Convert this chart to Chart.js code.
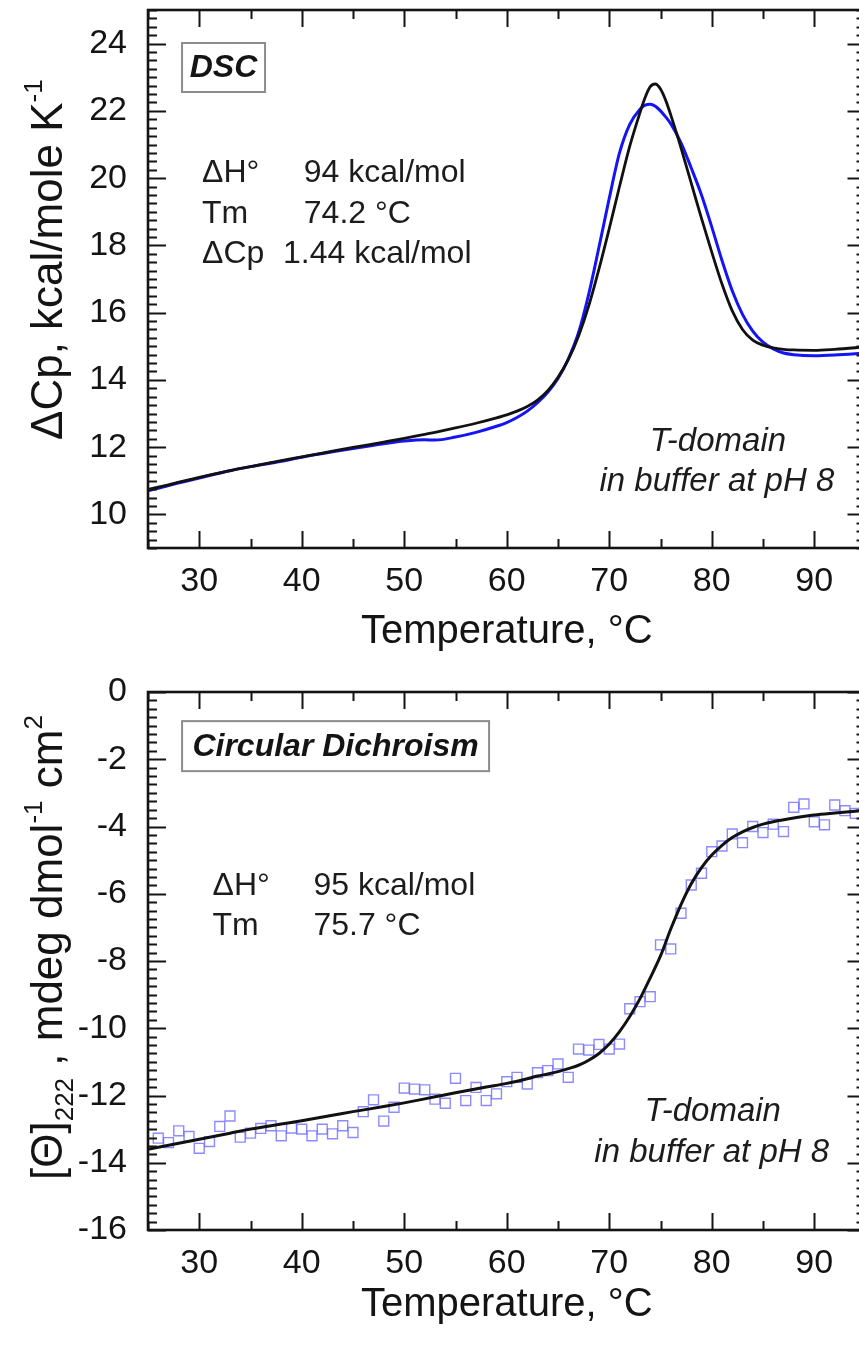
<!DOCTYPE html>
<html>
<head>
<meta charset="utf-8">
<script src="https://cdn.jsdelivr.net/npm/chart.js@4.4.1/dist/chart.umd.min.js"></script>
<style>
html, body { margin:0; padding:0; background:#ffffff; width:859px; height:1351px; overflow:hidden; position:relative; }
#c1 { position:absolute; left:0; top:0; }
#c2 { position:absolute; left:0; top:660px; }
</style>
</head>
<body>
<canvas id="c1" width="880" height="700"></canvas>
<canvas id="c2" width="880" height="691"></canvas>
<script>
const FONT = "'Liberation Sans', Arial, Helvetica, sans-serif";

// ---------- shared x axis ----------
const xTickValues = [30, 40, 50, 60, 70, 80, 90];

// ---------- DSC panel ----------
const dscTemp = [25, 27, 30, 33, 35, 38, 40, 43, 45, 48, 50, 52, 53, 55, 57, 59, 60, 61, 62, 63, 64, 65, 66, 67, 68, 69, 70, 71, 72, 73, 73.5, 74, 74.5, 75, 75.5, 76, 77, 78, 79, 80, 81, 82, 83, 84, 85, 86, 87, 88, 90, 92, 95];
const dscFit = [10.74, 10.88, 11.1, 11.3, 11.42, 11.6, 11.71, 11.88, 11.99, 12.15, 12.26, 12.38, 12.44, 12.57, 12.71, 12.87, 12.96, 13.07, 13.21, 13.4, 13.68, 14.08, 14.6, 15.3, 16.2, 17.3, 18.5, 19.75, 20.95, 21.95, 22.4, 22.72, 22.8, 22.65, 22.32, 21.88, 20.9, 19.85, 18.8, 17.8, 16.85, 16.05, 15.5, 15.18, 15.03, 14.95, 14.91, 14.89, 14.88, 14.91, 14.98];
const dscExp = [10.7, 10.86, 11.08, 11.3, 11.42, 11.58, 11.7, 11.86, 11.96, 12.1, 12.18, 12.22, 12.21, 12.3, 12.44, 12.62, 12.73, 12.88, 13.07, 13.32, 13.63, 14.04, 14.62, 15.4, 16.55, 17.95, 19.4, 20.75, 21.6, 22.05, 22.17, 22.2, 22.14, 22.0, 21.82, 21.62, 21.05, 20.3, 19.5, 18.55, 17.55, 16.65, 15.95, 15.45, 15.12, 14.92, 14.8, 14.75, 14.72, 14.74, 14.8];
const dscYTicks = [10, 12, 14, 16, 18, 20, 22, 24];

// ---------- CD panel ----------
const cdTemp = [26, 27, 28, 29, 30, 31, 32, 33, 34, 35, 36, 37, 38, 39, 40, 41, 42, 43, 44, 45, 46, 47, 48, 49, 50, 51, 52, 53, 54, 55, 56, 57, 58, 59, 60, 61, 62, 63, 64, 65, 66, 67, 68, 69, 70, 71, 72, 73, 74, 75, 76, 77, 78, 79, 80, 81, 82, 83, 84, 85, 86, 87, 88, 89, 90, 91, 92, 93, 94];
const cdSignal = [-13.27, -13.40, -13.05, -13.22, -13.57, -13.37, -12.92, -12.61, -13.24, -13.12, -12.98, -12.90, -13.20, -12.97, -13.00, -13.20, -13.00, -13.14, -12.90, -13.10, -12.48, -12.13, -12.76, -12.35, -11.78, -11.81, -11.83, -12.11, -12.23, -11.49, -12.15, -11.76, -12.15, -11.95, -11.59, -11.46, -11.66, -11.32, -11.26, -11.06, -11.46, -10.62, -10.65, -10.48, -10.62, -10.47, -9.42, -9.21, -9.06, -7.52, -7.64, -6.58, -5.74, -5.39, -4.75, -4.58, -4.22, -4.48, -4.00, -4.18, -3.93, -4.15, -3.43, -3.33, -3.86, -3.95, -3.36, -3.53, -3.61];
const cdFitTemp = [25, 28, 30, 33, 35, 38, 40, 43, 45, 48, 50, 53, 55, 58, 60, 62, 63, 64, 65, 66, 67, 68, 69, 70, 71, 72, 73, 74, 75, 76, 77, 78, 79, 80, 81, 82, 83, 84, 85, 86, 88, 90, 92, 95];
const cdFit = [-13.6, -13.42, -13.3, -13.12, -13.0, -12.85, -12.75, -12.59, -12.48, -12.33, -12.22, -12.04, -11.92, -11.75, -11.64, -11.5, -11.42, -11.36, -11.29, -11.2, -11.1, -10.95, -10.75, -10.47, -10.1, -9.65, -9.12, -8.5, -7.85, -7.05, -6.32, -5.7, -5.22, -4.85, -4.56, -4.33, -4.16, -4.03, -3.93, -3.86, -3.75, -3.66, -3.6, -3.52];
const cdYTicks = [-16, -14, -12, -10, -8, -6, -4, -2, 0];

const INK = '#141414';

// inward ticks on all four sides + frame
const framePlugin = {
  id: 'frame',
  afterDatasetsDraw(chart, args, opts) {
    const { ctx, chartArea: a, scales: { x, y } } = chart;
    ctx.save();
    ctx.strokeStyle = INK;
    ctx.lineWidth = 2;
    ctx.beginPath();
    const xMaj = 17, xMin = 9, yMaj = 18, yMin = 9;
    for (let v = x.min; v <= x.max + 1e-9; v += opts.xMinorStep) {
      const major = Math.abs(v / opts.xMajorStep - Math.round(v / opts.xMajorStep)) < 1e-6;
      const len = major ? xMaj : xMin;
      const p = Math.round(x.getPixelForValue(v)) + 0.5;
      ctx.moveTo(p, a.bottom); ctx.lineTo(p, a.bottom - len);
      ctx.moveTo(p, a.top); ctx.lineTo(p, a.top + len);
    }
    const n = Math.round((y.max - y.min) / opts.yMinorStep);
    for (let i = 0; i <= n; i++) {
      const v = y.min + i * opts.yMinorStep;
      const major = Math.abs(v / opts.yMajorStep - Math.round(v / opts.yMajorStep)) < 1e-6;
      const len = major ? yMaj : yMin;
      const p = Math.round(y.getPixelForValue(v)) + 0.5;
      ctx.moveTo(a.left, p); ctx.lineTo(a.left + len, p);
      ctx.moveTo(a.right, p); ctx.lineTo(a.right - len, p);
    }
    ctx.stroke();
    ctx.lineWidth = 2.6;
    ctx.strokeRect(a.left, a.top, a.right - a.left, a.bottom - a.top);
    ctx.restore();
  }
};

// text annotations placed in data coordinates
const notesPlugin = {
  id: 'notes',
  afterDatasetsDraw(chart, args, opts) {
    const { ctx, scales: { x, y } } = chart;
    ctx.save();
    ctx.textBaseline = 'middle';
    for (const b of (opts.boxes || [])) {
      const cx = x.getPixelForValue(b.x), cy = y.getPixelForValue(b.y);
      ctx.fillStyle = '#ffffff';
      ctx.fillRect(cx - b.w / 2, cy - b.h / 2, b.w, b.h);
      ctx.strokeStyle = '#8c8c8c';
      ctx.lineWidth = 2;
      ctx.strokeRect(cx - b.w / 2, cy - b.h / 2, b.w, b.h);
      ctx.fillStyle = INK;
      ctx.font = 'italic bold 32px ' + FONT;
      ctx.textAlign = 'center';
      ctx.fillText(b.text, cx, cy + 1);
    }
    for (const t of (opts.texts || [])) {
      ctx.fillStyle = '#1c1c1c';
      ctx.font = (t.italic ? 'italic ' : '') + (t.size || 32) + 'px ' + FONT;
      ctx.textAlign = t.align || 'left';
      ctx.fillText(t.text, x.getPixelForValue(t.x), y.getPixelForValue(t.y));
    }
    ctx.restore();
  }
};

// rotated y-axis title with real super/subscripts
const yTitlePlugin = {
  id: 'ytitle',
  afterDraw(chart, args, opts) {
    const { ctx, chartArea: a } = chart;
    ctx.save();
    ctx.translate(a.left + opts.dx, a.bottom - opts.fromBottom);
    ctx.rotate(-Math.PI / 2);
    ctx.fillStyle = INK;
    ctx.textAlign = 'left';
    ctx.textBaseline = 'alphabetic';
    let cx = 0;
    for (const r of opts.runs) {
      const small = r.sup || r.sub;
      const size = small ? Math.round(opts.size * 0.6) : opts.size;
      ctx.font = size + 'px ' + FONT;
      const dy = r.sup ? -opts.size * 0.45 : (r.sub ? opts.size * 0.24 : 0);
      ctx.fillText(r.t, cx, dy);
      cx += ctx.measureText(r.t).width;
    }
    ctx.restore();
  }
};

function xScale(height, titlePadBottom) {
  return {
    type: 'linear', min: 25, max: 95,
    afterBuildTicks: s => { s.ticks = xTickValues.map(v => ({ value: v })); },
    afterFit: s => { s.height = height; s.paddingLeft = 0; s.paddingRight = 0; },
    grid: { display: false, drawTicks: false },
    border: { display: false },
    ticks: { font: { family: FONT, size: 34 }, color: INK, padding: 13, maxRotation: 0, autoSkip: false },
    title: { display: true, text: 'Temperature, °C', font: { family: FONT, size: 40 }, color: INK, padding: { top: 0, bottom: titlePadBottom } }
  };
}
function yScale(min, max, tickVals) {
  return {
    type: 'linear', min: min, max: max,
    afterBuildTicks: s => { s.ticks = tickVals.map(v => ({ value: v })); },
    afterFit: s => { s.width = 148; s.paddingTop = 0; s.paddingBottom = 0; },
    grid: { display: false, drawTicks: false },
    border: { display: false },
    ticks: { font: { family: FONT, size: 34 }, color: INK, padding: 21, autoSkip: false },
    title: { display: false }
  };
}
const baseOpts = { responsive: false, animation: false, devicePixelRatio: 1 };

// ---------- DSC chart ----------
new Chart(document.getElementById('c1'), {
  type: 'line',
  data: {
    datasets: [
      { label: 'Fit', data: dscTemp.map((t, i) => ({ x: t, y: dscFit[i] })), borderColor: '#111111', borderWidth: 2.8, pointRadius: 0, cubicInterpolationMode: 'monotone', fill: false },
      { label: 'DSC', data: dscTemp.map((t, i) => ({ x: t, y: dscExp[i] })), borderColor: '#1414f5', borderWidth: 3, pointRadius: 0, cubicInterpolationMode: 'monotone', fill: false }
    ]
  },
  options: Object.assign({}, baseOpts, {
    layout: { padding: { left: 0, top: 10, right: 14.5, bottom: 0 } },
    plugins: {
      legend: { display: false }, tooltip: { enabled: false },
      frame: { xMajorStep: 10, xMinorStep: 5, yMajorStep: 2, yMinorStep: 0.25 },
      ytitle: { size: 44, dx: -86, fromBottom: 108, runs: [{ t: 'ΔCp, kcal/mole K' }, { t: '-1', sup: true }] },
      notes: {
        boxes: [{ text: 'DSC', x: 32.37, y: 23.29, w: 83, h: 49 }],
        texts: [
          { text: 'ΔH°', x: 30.27, y: 20.15 },
          { text: '94 kcal/mol', x: 40.2, y: 20.15 },
          { text: 'Tm', x: 30.27, y: 18.93 },
          { text: '74.2 °C', x: 40.2, y: 18.93 },
          { text: 'ΔCp', x: 30.27, y: 17.74 },
          { text: '1.44 kcal/mol', x: 38.17, y: 17.74 },
          { text: 'T-domain', x: 80.6, y: 12.17, align: 'center', italic: true, size: 33 },
          { text: 'in buffer at pH 8', x: 80.5, y: 10.98, align: 'center', italic: true, size: 33 }
        ]
      }
    },
    scales: {
      x: xScale(152, 44),
      y: yScale(9, 25, dscYTicks)
    }
  }),
  plugins: [framePlugin, notesPlugin, yTitlePlugin]
});

// ---------- CD chart ----------
new Chart(document.getElementById('c2'), {
  type: 'line',
  data: {
    datasets: [
      { label: 'Fit', data: cdFitTemp.map((t, i) => ({ x: t, y: cdFit[i] })), borderColor: '#111111', borderWidth: 3, pointRadius: 0, cubicInterpolationMode: 'monotone', fill: false },
      { label: 'CD', data: cdTemp.map((t, i) => ({ x: t, y: cdSignal[i] })), showLine: false, pointStyle: 'rect', pointRadius: 7, borderColor: 'rgba(110,110,255,0.8)', backgroundColor: 'rgba(0,0,0,0)', pointBorderWidth: 1.4 }
    ]
  },
  options: Object.assign({}, baseOpts, {
    layout: { padding: { left: 0, top: 32, right: 14.5, bottom: 0 } },
    plugins: {
      legend: { display: false }, tooltip: { enabled: false },
      frame: { xMajorStep: 10, xMinorStep: 5, yMajorStep: 2, yMinorStep: 0.25 },
      ytitle: { size: 44, dx: -86, fromBottom: 50, runs: [{ t: '[Θ]' }, { t: '222', sub: true }, { t: ' , mdeg dmol' }, { t: '-1', sup: true }, { t: ' cm' }, { t: '2', sup: true }] },
      notes: {
        boxes: [{ text: 'Circular Dichroism', x: 43.3, y: -1.61, w: 307, h: 50 }],
        texts: [
          { text: 'ΔH°', x: 31.3, y: -5.77 },
          { text: '95 kcal/mol', x: 41.14, y: -5.77 },
          { text: 'Tm', x: 31.3, y: -6.96 },
          { text: '75.7 °C', x: 41.14, y: -6.96 },
          { text: 'T-domain', x: 80.1, y: -12.49, align: 'center', italic: true, size: 33 },
          { text: 'in buffer at pH 8', x: 80.0, y: -13.71, align: 'center', italic: true, size: 33 }
        ]
      }
    },
    scales: {
      x: xScale(121, 22),
      y: yScale(-16, 0, cdYTicks)
    }
  }),
  plugins: [framePlugin, notesPlugin, yTitlePlugin]
});
</script>
</body>
</html>
